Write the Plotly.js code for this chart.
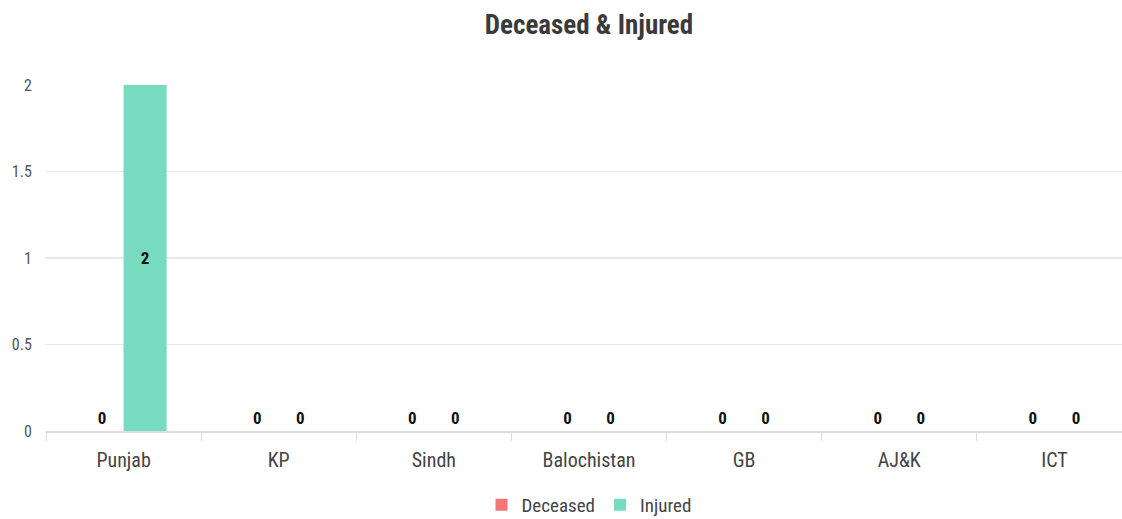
<!DOCTYPE html>
<html>
<head>
<meta charset="utf-8">
<script src="https://cdn.plot.ly/plotly-3.0.1.min.js"></script>
<style>html,body{margin:0;padding:0;overflow:hidden;background:#fff;}#chart{width:1132px;height:519px;}</style>
</head>
<body>
<div id="chart"></div>
<script>
const categories = ["Punjab", "KP", "Sindh", "Balochistan", "GB", "AJ&K", "ICT"];
const deceased = [0, 0, 0, 0, 0, 0, 0];
const injured = [2, 0, 0, 0, 0, 0, 0];
const yTicks = [0, 0.5, 1, 1.5, 2];

const FONT = '"Liberation Sans Narrow", "Roboto Condensed", "Arial Narrow", "Liberation Sans", sans-serif';

function positions(vals) { return vals.map(v => v > 0 ? 'inside' : 'outside'); }

const labelFont = {family: FONT, size: 17, color: '#111', weight: 'bold'};
const common = {
  type: 'bar',
  x: categories,
  texttemplate: '%{y}',
  insidetextanchor: 'middle',
  textfont: labelFont,
  insidetextfont: labelFont,
  outsidetextfont: labelFont,
  cliponaxis: false,
  hoverinfo: 'x+y+name'
};

const data = [
  Object.assign({}, common, {name: 'Deceased', y: deceased, textposition: positions(deceased), marker: {color: '#f47676'}}),
  Object.assign({}, common, {name: 'Injured', y: injured, textposition: positions(injured), marker: {color: '#77dcbf'}})
];

const layout = {
  width: 1132, height: 519,
  margin: {l: 46, r: 0, t: 85, b: 88},
  paper_bgcolor: '#fff', plot_bgcolor: '#fff',
  font: {family: FONT, color: '#444'},
  title: {text: 'Deceased & Injured', font: {family: FONT, size: 27, color: '#3a3a3a', weight: 'bold'}, x: 0.5, xref: 'paper', xanchor: 'center', y: 1 - 25/519, yanchor: 'middle'},
  barmode: 'group',
  bargap: 0.445,
  bargroupgap: 0,
  showlegend: true,
  legend: {orientation: 'h', x: 0.5, xanchor: 'center', xref: 'paper', yref: 'container', y: 14/519, yanchor: 'middle', font: {family: FONT, size: 19, color: '#444'}, itemwidth: 30, traceorder: 'normal'},
  xaxis: {
    type: 'category',
    tickfont: {family: FONT, size: 20, color: '#444'},
    showline: true, linecolor: '#dcdcdc', linewidth: 2,
    ticks: 'outside', tickson: 'boundaries', ticklen: 8, tickcolor: '#dcdcdc', tickwidth: 1,
    ticklabelstandoff: 10,
    showgrid: false, zeroline: false,
    fixedrange: true
  },
  yaxis: {
    range: [0, 2],
    tickvals: yTicks,
    ticktext: yTicks.map(String),
    tickfont: {family: FONT, size: 16, color: '#555'},
    showgrid: true, gridcolor: '#e8e8e8', gridwidth: 1.5,
    zeroline: false, showline: false,
    ticks: 'outside', ticklen: 10, tickcolor: 'rgba(0,0,0,0)',
    fixedrange: true
  }
};

Plotly.newPlot('chart', data, layout, {displayModeBar: false, staticPlot: true});
</script>
</body>
</html>
